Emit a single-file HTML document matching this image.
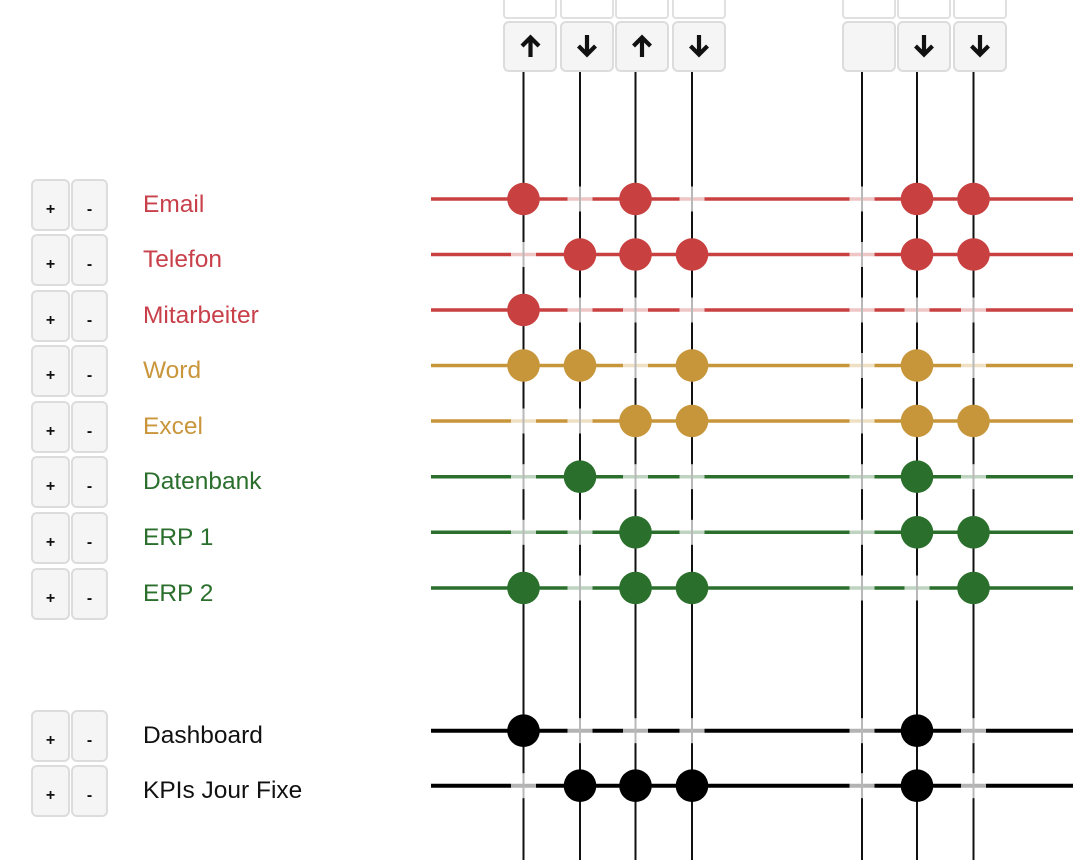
<!DOCTYPE html>
<html><head><meta charset="utf-8"><style>
html,body{margin:0;padding:0;background:#fff;width:1073px;height:860px;overflow:hidden;position:relative;font-family:"Liberation Sans",sans-serif;}
.b{position:absolute;box-sizing:border-box;background:#f5f5f5;border:2px solid #dcdcdc;border-radius:6px;font-size:16px;font-weight:bold;color:#111;text-align:center;}
.t{position:absolute;box-sizing:border-box;background:#fff;border:2px solid #e0e0e0;border-radius:4px;}
.l{position:absolute;left:143px;font-size:24.5px;line-height:30px;white-space:nowrap;}
svg{position:absolute;left:0;top:0;}
</style></head><body>
<svg width="1073" height="860" viewBox="0 0 1073 860">
<g id="h"></g>
</svg>
<div id="ui"></div>
<script>
var rows=[199,254.5,310,365.5,421,476.7,532.3,588,730.7,785.7];
var names=["Email","Telefon","Mitarbeiter","Word","Excel","Datenbank","ERP 1","ERP 2","Dashboard","KPIs Jour Fixe"];
var cols=["#c84040","#c84040","#c84040","#c8963a","#c8963a","#2b6f2d","#2b6f2d","#2b6f2d","#000","#000"];
var tcol=["#c8404a","#c8404a","#c8404a","#c9963c","#c9963c","#2b6f2d","#2b6f2d","#2b6f2d","#111","#111"];
var xs=[523.5,580,635.5,692,862,917,973.5];
var dots=[[0,2,5,6],[1,2,3,5,6],[0],[0,1,3,5],[2,3,5,6],[1,5],[2,5,6],[0,2,3,6],[0,5],[1,2,3,5]];
var s='';
for(var i=0;i<rows.length;i++){s+='<line x1="431" y1="'+rows[i]+'" x2="1073" y2="'+rows[i]+'" stroke="'+cols[i]+'" stroke-width="'+(i>=8?4:3.5)+'"/>';}
for(var j=0;j<xs.length;j++){s+='<line x1="'+xs[j]+'" y1="72" x2="'+xs[j]+'" y2="860" stroke="#111" stroke-width="2"/>';}
for(var i=0;i<rows.length;i++){for(var j=0;j<xs.length;j++){if(dots[i].indexOf(j)<0){s+='<rect x="'+(xs[j]-12.5)+'" y="'+(rows[i]-12.5)+'" width="25" height="25" fill="#fff" fill-opacity="0.7"/>';}}}
for(var i=0;i<rows.length;i++){for(var k=0;k<dots[i].length;k++){s+='<circle cx="'+xs[dots[i][k]]+'" cy="'+rows[i]+'" r="16.3" fill="'+cols[i]+'"/>';}}
document.getElementById('h').innerHTML=s;
var u='';
var hl=[503,560,615,672,842,897,953];
for(var j=0;j<hl.length;j++){u+='<div class="t" style="left:'+hl[j]+'px;top:-12px;width:54px;height:31px"></div>';u+='<div class="b" style="left:'+hl[j]+'px;top:21px;width:54px;height:51px"></div>';}
for(var i=0;i<rows.length;i++){var bt=Math.round(rows[i]-20.5);
u+='<div class="b" style="left:31px;top:'+bt+'px;width:39px;height:52px;padding-top:18px;line-height:22px">+</div>';
u+='<div class="b" style="left:71px;top:'+bt+'px;width:37px;height:52px;padding-top:18px;line-height:22px">-</div>';
u+='<div class="l" style="top:'+Math.round(rows[i]+5.5-15)+'px;color:'+tcol[i]+'">'+names[i]+'</div>';}
document.getElementById('ui').innerHTML=u;
</script>
<svg width="1073" height="860" viewBox="0 0 1073 860" style="pointer-events:none">
<g stroke="#111" stroke-width="4.2" fill="none" stroke-linejoin="miter" stroke-linecap="butt">
<line x1="530.5" y1="57" x2="530.5" y2="39"/><polyline points="522,46 530.5,37.5 539,46"/>
<line x1="587" y1="35" x2="587" y2="53"/><polyline points="578.5,46 587,54.5 595.5,46"/>
<line x1="642" y1="57" x2="642" y2="39"/><polyline points="633.5,46 642,37.5 650.5,46"/>
<line x1="699" y1="35" x2="699" y2="53"/><polyline points="690.5,46 699,54.5 707.5,46"/>
<line x1="924" y1="35" x2="924" y2="53"/><polyline points="915.5,46 924,54.5 932.5,46"/>
<line x1="980" y1="35" x2="980" y2="53"/><polyline points="971.5,46 980,54.5 988.5,46"/>
</g>
</svg>
</body></html>
